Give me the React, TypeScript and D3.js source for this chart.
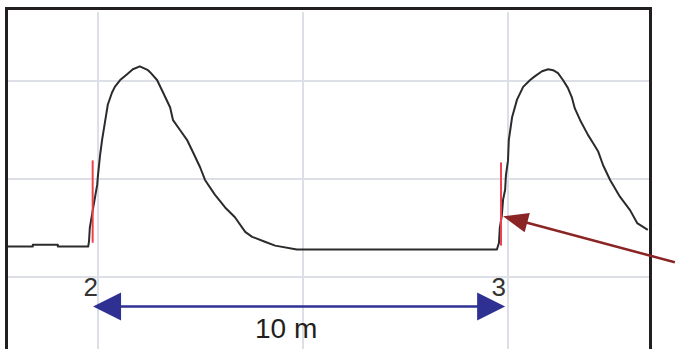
import React from "react";
import * as d3 from "d3";

// distance along the trace (m) and signal level (grid units)
const traceDistance: number[] = [
  -2.22, -1.59, -1.59, -0.98, -0.98, -0.24, -0.22, -0.2, -0.12, -0.02, 0, 0.05, 0.1, 0.17, 0.24, 0.34, 0.41,
  0.54, 0.71, 0.85, 1.02, 1.22, 1.27, 1.44, 1.59, 1.76, 1.83, 2.0, 2.17, 2.32, 2.49, 2.61, 2.85, 3.1,
  3.34, 3.59, 3.76, 4.07, 4.32, 4.85, 9.73, 9.78, 9.8, 9.85, 9.88, 9.93, 9.95, 10.0, 10.02, 10.1,
  10.22, 10.37, 10.54, 10.66, 10.83, 10.98, 11.1, 11.22, 11.34, 11.46, 11.56, 11.63, 11.76, 11.95,
  12.07, 12.2, 12.32, 12.49, 12.73, 12.98, 13.15, 13.41,
];
const traceLevel: number[] = [
  0.31, 0.31, 0.33, 0.33, 0.31, 0.31, 0.36, 0.5, 0.7, 0.94, 1.04, 1.24, 1.4, 1.58, 1.76, 1.88, 1.94,
  2.01, 2.07, 2.12, 2.15, 2.11, 2.09, 2.01, 1.88, 1.73, 1.6, 1.5, 1.4, 1.27, 1.12, 0.99, 0.84, 0.71,
  0.61, 0.46, 0.41, 0.36, 0.32, 0.28, 0.28, 0.35, 0.5, 0.63, 0.79, 0.89, 1.04, 1.19, 1.4, 1.63,
  1.81, 1.94, 2.01, 2.05, 2.1, 2.12, 2.11, 2.08, 2.01, 1.93, 1.83, 1.72, 1.6, 1.45,
  1.37, 1.28, 1.14, 0.99, 0.82, 0.68, 0.55, 0.48,
];

// event markers
const eventLabels: string[] = ["2", "3"];
const eventGrid: number[] = [0, 10];
const markerDistance: number[] = [-0.13, 9.83];
const markerTop: number[] = [1.19, 1.17];
const markerBottom: number[] = [0.35, 0.32];

// grid
const gridX: number[] = [0, 5, 10];
const gridY: number[] = [0, 1, 2];

// dimension arrow
const spanStart = -0.12;
const spanEnd = 9.93;
const spanLevel = -0.3;
const spanLabel = "10 m";

// pointer arrow
const pointerTip: [number, number] = [9.88, 0.62];
const pointerTail: [number, number] = [14.07, 0.15];

const W = 675;
const H = 349;

export default function App() {
  const x = d3.scaleLinear().domain([0, 10]).range([98, 508]);
  const y = d3.scaleLinear().domain([0, 1]).range([277, 179]);

  const pts: [number, number][] = traceDistance.map((d, i) => [d, traceLevel[i]]);
  const line = d3
    .line<[number, number]>()
    .x((d) => x(d[0]))
    .y((d) => y(d[1]));

  const frameL = 6.5;
  const frameR = 650.5;
  const frameT = 8.5;

  // dimension arrow geometry
  const ay = y(spanLevel);
  const ax0 = x(spanStart);
  const ax1 = x(spanEnd);
  const headL = 28;
  const headH = 14;

  // pointer arrow geometry
  const px0 = x(pointerTip[0]);
  const py0 = y(pointerTip[1]);
  const px1 = x(pointerTail[0]);
  const py1 = y(pointerTail[1]);
  const ang = Math.atan2(py1 - py0, px1 - px0);
  const pl = 25;
  const pw = 10;
  const bx = px0 + Math.cos(ang) * pl;
  const by = py0 + Math.sin(ang) * pl;
  const nx = -Math.sin(ang);
  const ny = Math.cos(ang);

  return (
    <svg
      width={W}
      height={H}
      style={{ position: "absolute", left: 0, top: 0, background: "#fff" }}
      fontFamily="Liberation Sans, Arial, sans-serif"
    >
      <defs>
        <clipPath id="plot">
          <rect x={frameL + 1.5} y={frameT + 1.5} width={frameR - frameL - 3} height={H} />
        </clipPath>
      </defs>
      <g clipPath="url(#plot)">
        {gridY.map((g) => (
          <line key={"gy" + g} x1={frameL} x2={frameR} y1={y(g)} y2={y(g)} stroke="#dcdfe5" strokeWidth={2} />
        ))}
        {gridX.map((g) => (
          <line key={"gx" + g} x1={x(g)} x2={x(g)} y1={12} y2={H} stroke="#dcdfe5" strokeWidth={2} />
        ))}
        <path d={line(pts) || ""} fill="none" stroke="#2b2b2b" strokeWidth={2} strokeLinejoin="round" />
        {markerDistance.map((m, i) => (
          <line
            key={"mk" + i}
            x1={x(m)}
            x2={x(m)}
            y1={y(markerTop[i])}
            y2={y(markerBottom[i])}
            stroke="#f0404f"
            strokeWidth={2}
          />
        ))}
      </g>
      <path
        d={`M${frameL},${H} V${frameT} H${frameR} V${H}`}
        fill="none"
        stroke="#231f20"
        strokeWidth={3}
      />
      {eventLabels.map((t, i) => (
        <text
          key={"lb" + i}
          x={x(eventGrid[i]) - (i === 0 ? 0 : 2)}
          y={296}
          textAnchor="end"
          fontSize={26}
          fill="#333"
        >
          {t}
        </text>
      ))}
      <line x1={ax0 + headL - 2} x2={ax1 - headL + 2} y1={ay} y2={ay} stroke="#2e3192" strokeWidth={2.5} />
      <path
        d={`M${ax0},${ay} L${ax0 + headL},${ay - headH} L${ax0 + headL},${ay + headH} Z`}
        fill="#2e3192"
      />
      <path
        d={`M${ax1},${ay} L${ax1 - headL},${ay - headH} L${ax1 - headL},${ay + headH} Z`}
        fill="#2e3192"
      />
      <text x={(x(spanStart) + x(spanEnd)) / 2 - 13} y={338} textAnchor="middle" fontSize={28} fill="#231f20">
        {spanLabel}
      </text>
      <line x1={bx - 2 * Math.cos(ang)} y1={by - 2 * Math.sin(ang)} x2={px1} y2={py1} stroke="#8b2424" strokeWidth={2.5} />
      <path
        d={`M${px0},${py0} L${bx + nx * pw},${by + ny * pw} L${bx - nx * pw},${by - ny * pw} Z`}
        fill="#8b2424"
      />
    </svg>
  );
}
